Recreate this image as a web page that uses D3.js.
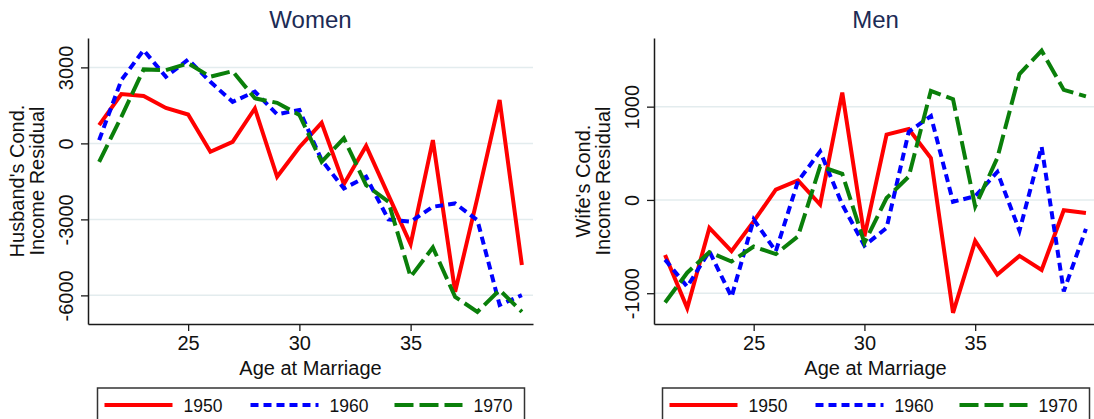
<!DOCTYPE html>
<html>
<head>
<meta charset="utf-8">
<script src="https://cdn.jsdelivr.net/npm/d3@7/dist/d3.min.js"></script>
<style>
  html, body { margin: 0; padding: 0; background: #fff; }
  svg { display: block; font-family: "Liberation Sans", Arial, Helvetica, sans-serif; }
</style>
</head>
<body>
<svg id="chart" width="1094" height="419"></svg>
<script>
// Age at marriage (x categories)
const ages = [21, 22, 23, 24, 25, 26, 27, 28, 29, 30, 31, 32, 33, 34, 35, 36, 37, 38, 39, 40];
const cohorts = ["1950", "1960", "1970"];

// Women: husband's conditional income residual by birth cohort
const women1950 = [720, 1950, 1870, 1400, 1140, -330, 60, 1380, -1320, -150, 810, -1610, -100, -2040, -3980, 130, -5860, -2150, 1710, -4800];
const women1960 = [130, 2500, 3680, 2630, 3310, 2430, 1640, 2040, 1150, 1320, -660, -1780, -1320, -3000, -3090, -2500, -2370, -3030, -6380, -5990];
const women1970 = [-730, 1050, 2920, 2890, 3160, 2630, 2850, 1780, 1600, 1120, -730, 200, -1650, -2300, -5270, -4110, -6060, -6650, -5790, -6650];

// Men: wife's conditional income residual by birth cohort
const men1950 = [-590, -1160, -300, -550, -230, 110, 210, -50, 1150, -390, 700, 760, 450, -1210, -440, -800, -600, -750, -110, -140];
const men1960 = [-640, -930, -550, -1040, -210, -550, 200, 520, -50, -490, -300, 730, 900, -20, 40, 300, -330, 570, -980, -310];
const men1970 = [-1100, -780, -560, -660, -500, -580, -390, 360, 280, -460, 20, 250, 1170, 1080, -70, 450, 1350, 1600, 1180, 1110];

const xTicks = [25, 30, 35];
const womenYTicks = [3000, 0, -3000, -6000];
const menYTicks = [1000, 0, -1000];

const seriesStyle = [
  { color: "#ff0000", dash: null },
  { color: "#0000ff", dash: "8,5" },
  { color: "#0a7f0a", dash: "19,6" }
];

const svg = d3.select("#chart");
const plotTop = 38, plotBottom = 324;
// plain hyphen for negative tick values
const tickFmt = d => String(d);

function drawPanel(opts) {
  const x = d3.scaleLinear().domain([20.5, 40.5]).range([opts.left, opts.right]);
  const y = d3.scaleLinear().domain(opts.yDomain).range([plotBottom, plotTop]);
  const g = svg.append("g");
  const cx = (opts.left + opts.right) / 2;

  // gridlines
  g.append("g").selectAll("line").data(opts.yTicks).join("line")
    .attr("x1", opts.left).attr("x2", opts.right)
    .attr("y1", d => y(d)).attr("y2", d => y(d))
    .attr("stroke", "#e3ecee").attr("stroke-width", 1.5);

  // series
  const line = d3.line().x((d, i) => x(ages[i])).y(d => y(d));
  opts.series.forEach((vals, i) => {
    g.append("path").datum(vals)
      .attr("d", line)
      .attr("fill", "none")
      .attr("stroke", seriesStyle[i].color)
      .attr("stroke-width", 4)
      .attr("stroke-linejoin", "miter")
      .attr("stroke-dasharray", seriesStyle[i].dash);
  });

  // y axis
  const yAxis = g.append("g")
    .attr("transform", `translate(${opts.left},0)`)
    .call(d3.axisLeft(y).tickValues(opts.yTicks).tickSize(7).tickSizeOuter(0).tickFormat(tickFmt));
  yAxis.select(".domain").attr("stroke", "#1a1a1a").attr("stroke-width", 1.5);
  yAxis.selectAll(".tick line").attr("stroke", "#1a1a1a").attr("stroke-width", 1.3);
  yAxis.selectAll(".tick text")
    .attr("transform", "rotate(-90)")
    .attr("x", 0).attr("y", -15).attr("dy", null)
    .attr("text-anchor", "middle")
    .attr("font-size", 20).attr("font-family", "Liberation Sans, Arial, sans-serif")
    .attr("fill", "#111");

  // x axis
  const xAxis = g.append("g")
    .attr("transform", `translate(0,${plotBottom})`)
    .call(d3.axisBottom(x).tickValues(xTicks).tickSize(7).tickSizeOuter(0).tickPadding(5).tickFormat(tickFmt));
  xAxis.select(".domain").attr("stroke", "#1a1a1a").attr("stroke-width", 1.5);
  xAxis.selectAll(".tick line").attr("stroke", "#1a1a1a").attr("stroke-width", 1.3);
  xAxis.selectAll(".tick text")
    .attr("font-size", 20).attr("font-family", "Liberation Sans, Arial, sans-serif")
    .attr("fill", "#111");

  // titles
  g.append("text").attr("x", cx).attr("y", 28)
    .attr("text-anchor", "middle").attr("font-size", 24).attr("fill", "#1c2b55")
    .text(opts.title);
  g.append("text").attr("x", cx).attr("y", 375)
    .attr("text-anchor", "middle").attr("font-size", 20).attr("fill", "#111")
    .text("Age at Marriage");
  const cy = (plotTop + plotBottom) / 2;
  opts.yLabel.forEach((txt, i) => {
    g.append("text")
      .attr("transform", `translate(${opts.left - 64 + i * 20},${cy}) rotate(-90)`)
      .attr("text-anchor", "middle").attr("font-size", 20).attr("fill", "#111")
      .text(txt);
  });

  // legend
  const lg = g.append("g").attr("transform", `translate(${cx},0)`);
  lg.append("rect").attr("x", -213).attr("y", 388).attr("width", 427).attr("height", 50)
    .attr("fill", "#fff").attr("stroke", "#333").attr("stroke-width", 1.5);
  const keyX = [-206, -60, 84];
  cohorts.forEach((c, i) => {
    lg.append("line").attr("x1", keyX[i]).attr("x2", keyX[i] + 68)
      .attr("y1", 405).attr("y2", 405)
      .attr("stroke", seriesStyle[i].color).attr("stroke-width", 4)
      .attr("stroke-dasharray", seriesStyle[i].dash);
    lg.append("text").attr("x", keyX[i] + 79).attr("y", 411.5)
      .attr("font-size", 17.5).attr("fill", "#111").text(c);
  });
}

drawPanel({
  title: "Women", left: 88, right: 533, yDomain: [-7130, 4160], yTicks: womenYTicks,
  yLabel: ["Husband's Cond.", "Income Residual"],
  series: [women1950, women1960, women1970]
});
drawPanel({
  title: "Men", left: 654, right: 1097, yDomain: [-1330, 1736], yTicks: menYTicks,
  yLabel: ["Wife's Cond.", "Income Residual"],
  series: [men1950, men1960, men1970]
});
</script>
</body>
</html>
